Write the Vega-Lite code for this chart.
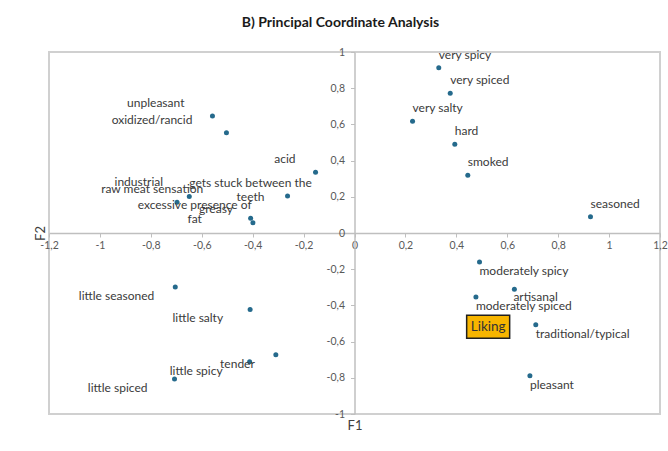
{
  "$schema": "https://vega.github.io/schema/vega-lite/v6.json",
  "width": 611,
  "height": 362,
  "autosize": {"type": "none"},
  "padding": {"left": 49, "top": 52, "right": 8, "bottom": 37},
  "background": "white",
  "title": {"text": "B) Principal Coordinate Analysis", "font": "Lato", "fontSize": 14, "fontWeight": "bold", "color": "#1a1a1a", "anchor": "middle", "frame": "group", "dx": -14, "offset": 17},
  "config": {
    "view": {"stroke": "#d0d0d0", "strokeWidth": 2},
    "font": "Lato",
    "text": {"font": "Lato", "fontSize": 12, "color": "#3a3a3a", "baseline": "middle", "lineBreak": "\n", "lineHeight": 14}
  },
  "datasets": {
    "attributes": [
      {"label": "unpleasant", "F1": -0.558, "F2": 0.646},
      {"label": "oxidized/rancid", "F1": -0.503, "F2": 0.554},
      {"label": "acid", "F1": -0.153, "F2": 0.335},
      {"label": "gets stuck between the\nteeth", "F1": -0.263, "F2": 0.204},
      {"label": "industrial", "F1": -0.697, "F2": 0.170},
      {"label": "raw meat sensation", "F1": -0.649, "F2": 0.201},
      {"label": "excessive presence of\nfat", "F1": -0.408, "F2": 0.081},
      {"label": "greasy", "F1": -0.399, "F2": 0.057},
      {"label": "very spicy", "F1": 0.331, "F2": 0.913},
      {"label": "very spiced", "F1": 0.376, "F2": 0.772},
      {"label": "very salty", "F1": 0.228, "F2": 0.617},
      {"label": "hard", "F1": 0.394, "F2": 0.490},
      {"label": "smoked", "F1": 0.445, "F2": 0.319},
      {"label": "seasoned", "F1": 0.927, "F2": 0.090},
      {"label": "moderately spicy", "F1": 0.491, "F2": -0.160},
      {"label": "artisanal", "F1": 0.628, "F2": -0.311},
      {"label": "moderately spiced", "F1": 0.477, "F2": -0.354},
      {"label": "traditional/typical", "F1": 0.712, "F2": -0.507},
      {"label": "pleasant", "F1": 0.689, "F2": -0.788},
      {"label": "little seasoned", "F1": -0.704, "F2": -0.298},
      {"label": "little salty", "F1": -0.410, "F2": -0.422},
      {"label": "tender", "F1": -0.309, "F2": -0.672},
      {"label": "little spicy", "F1": -0.412, "F2": -0.711},
      {"label": "little spiced", "F1": -0.707, "F2": -0.807}
    ],
    "liking": [
      {"label": "Liking", "F1": 0.525, "F2": -0.518}
    ]
  },
  "encoding": {
    "x": {
      "field": "F1", "type": "quantitative",
      "scale": {"domain": [-1.2, 1.2], "nice": false, "zero": false},
      "axis": {
        "values": [-1.2, -1, -0.8, -0.6, -0.4, -0.2, 0, 0.2, 0.4, 0.6, 0.8, 1, 1.2],
        "format": "~g",
        "labelExpr": "replace(replace(datum.label, '.', ','), '−', '-')",
        "offset": -181,
        "grid": false,
        "domainColor": "#bfbfbf", "domainWidth": 1.5,
        "tickColor": "#bfbfbf", "tickSize": 4,
        "labelFont": "Lato", "labelFontSize": 10.5, "labelColor": "#595959", "labelPadding": 3,
        "labelFlush": false, "labelOverlap": false,
        "title": "F1", "titleFont": "Lato", "titleFontSize": 13, "titleFontWeight": "normal", "titleColor": "#404040",
        "titleX": 305.5, "titleY": 192, "titleBaseline": "middle", "titleAlign": "center"
      }
    },
    "y": {
      "field": "F2", "type": "quantitative",
      "scale": {"domain": [-1, 1], "nice": false, "zero": false},
      "axis": {
        "values": [-1, -0.8, -0.6, -0.4, -0.2, 0, 0.2, 0.4, 0.6, 0.8, 1],
        "format": "~g",
        "labelExpr": "replace(replace(datum.label, '.', ','), '−', '-')",
        "offset": -305.5,
        "grid": false,
        "domainColor": "#bfbfbf", "domainWidth": 1.5,
        "tickColor": "#bfbfbf", "tickSize": 4,
        "labelFont": "Lato", "labelFontSize": 10.5, "labelColor": "#595959", "labelPadding": 6,
        "labelOverlap": false, "labelFlush": false,
        "title": "F2", "titleFont": "Lato", "titleFontSize": 13, "titleFontWeight": "normal", "titleColor": "#404040",
        "titleX": -314, "titleY": 181, "titleAngle": 270, "titleBaseline": "middle", "titleAlign": "center"
      }
    }
  },
  "layer": [
    {
      "data": {"name": "attributes"},
      "mark": {"type": "point", "filled": true, "size": 25, "color": "#256a8c", "opacity": 1}
    },
    {
      "data": {"name": "liking"},
      "mark": {"type": "point", "shape": "M-1,-0.535L1,-0.535L1,0.535L-1,0.535Z", "size": 1849, "filled": true, "fill": "#f7b500", "stroke": "#1f1f1f", "strokeWidth": 1.5, "opacity": 1}
    },
    {
      "data": {"name": "liking"},
      "mark": {"type": "text", "align": "center", "fontSize": 13.5, "color": "#333333"},
      "encoding": {"text": {"field": "label", "type": "nominal"}}
    },
    {
      "data": {"name": "attributes"},
      "transform": [{"filter": {"field": "label", "oneOf": ["very spicy", "very spiced", "very salty", "hard", "smoked", "seasoned"]}}],
      "mark": {"type": "text", "align": "left", "dx": 0, "dy": -13},
      "encoding": {"text": {"field": "label", "type": "nominal"}}
    },
    {
      "data": {"name": "attributes"},
      "transform": [{"filter": {"field": "label", "oneOf": ["moderately spicy", "moderately spiced", "traditional/typical", "pleasant"]}}],
      "mark": {"type": "text", "align": "left", "dx": 0, "dy": 9},
      "encoding": {"text": {"field": "label", "type": "nominal"}}
    },
    {
      "data": {"name": "attributes"},
      "transform": [{"filter": {"field": "label", "oneOf": ["artisanal"]}}],
      "mark": {"type": "text", "align": "left", "dx": -1, "dy": 8},
      "encoding": {"text": {"field": "label", "type": "nominal"}}
    },
    {
      "data": {"name": "attributes"},
      "transform": [{"filter": {"field": "label", "oneOf": ["little seasoned", "tender"]}}],
      "mark": {"type": "text", "align": "right", "dx": -21, "dy": 9},
      "encoding": {"text": {"field": "label", "type": "nominal"}}
    },
    {
      "data": {"name": "attributes"},
      "transform": [{"filter": {"field": "label", "oneOf": ["little salty", "little spicy", "little spiced"]}}],
      "mark": {"type": "text", "align": "right", "dx": -27, "dy": 9},
      "encoding": {"text": {"field": "label", "type": "nominal"}}
    },
    {
      "data": {"name": "attributes"},
      "transform": [{"filter": {"field": "label", "oneOf": ["unpleasant"]}}],
      "mark": {"type": "text", "align": "right", "dx": -28, "dy": -13},
      "encoding": {"text": {"field": "label", "type": "nominal"}}
    },
    {
      "data": {"name": "attributes"},
      "transform": [{"filter": {"field": "label", "oneOf": ["oxidized/rancid"]}}],
      "mark": {"type": "text", "align": "right", "dx": -34, "dy": -13},
      "encoding": {"text": {"field": "label", "type": "nominal"}}
    },
    {
      "data": {"name": "attributes"},
      "transform": [{"filter": {"field": "label", "oneOf": ["acid", "greasy"]}}],
      "mark": {"type": "text", "align": "right", "dx": -20, "dy": -13.5},
      "encoding": {"text": {"field": "label", "type": "nominal"}}
    },
    {
      "data": {"name": "attributes"},
      "transform": [{"filter": {"field": "label", "oneOf": ["gets stuck between the\nteeth"]}}],
      "mark": {"type": "text", "align": "center", "dx": -37, "dy": -13},
      "encoding": {"text": {"field": "label", "type": "nominal"}}
    },
    {
      "data": {"name": "attributes"},
      "transform": [{"filter": {"field": "label", "oneOf": ["industrial"]}}],
      "mark": {"type": "text", "align": "right", "dx": -14, "dy": -20},
      "encoding": {"text": {"field": "label", "type": "nominal"}}
    },
    {
      "data": {"name": "attributes"},
      "transform": [{"filter": {"field": "label", "oneOf": ["raw meat sensation"]}}],
      "mark": {"type": "text", "align": "right", "dx": 14, "dy": -8},
      "encoding": {"text": {"field": "label", "type": "nominal"}}
    },
    {
      "data": {"name": "attributes"},
      "transform": [{"filter": {"field": "label", "oneOf": ["excessive presence of\nfat"]}}],
      "mark": {"type": "text", "align": "center", "dx": -56, "dy": -13},
      "encoding": {"text": {"field": "label", "type": "nominal"}}
    }
  ]
}
